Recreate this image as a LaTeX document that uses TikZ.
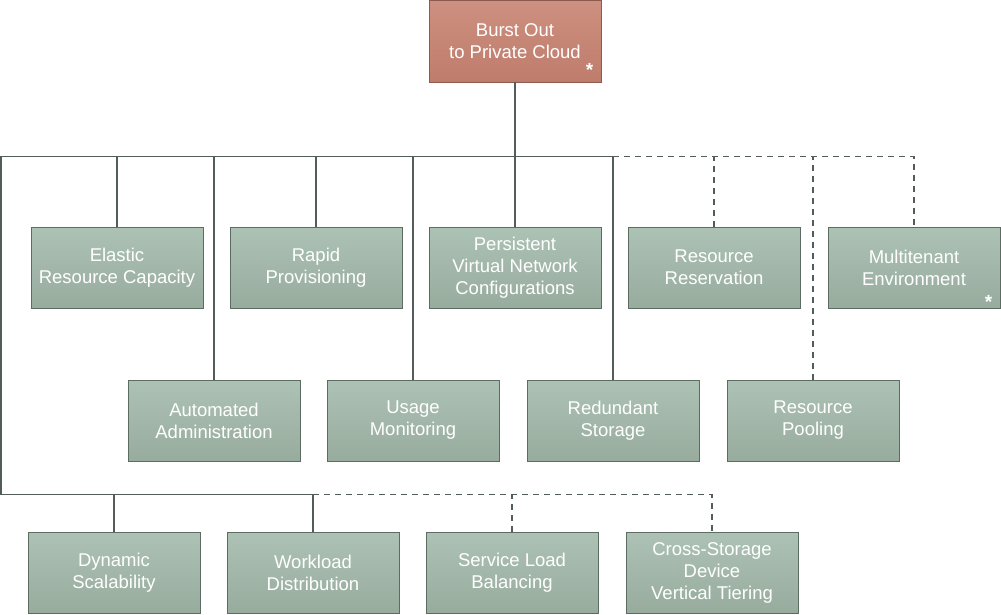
\documentclass[tikz,border=0pt]{standalone}
\usepackage{fontspec}
\setmainfont{Liberation Sans}
\usepackage{xcolor}
\usepackage{tikz}
\usetikzlibrary{positioning,calc,shadows}
\definecolor{PatTop}{RGB}{172,194,180}
\definecolor{PatBot}{RGB}{152,172,158}
\definecolor{PatEdge}{RGB}{92,108,98}
\definecolor{RootTop}{RGB}{206,144,128}
\definecolor{RootBot}{RGB}{190,124,108}
\definecolor{RootEdge}{RGB}{140,90,78}
\definecolor{LinkC}{RGB}{82,92,88}
\tikzset{
  pat/.style={rectangle,draw=PatEdge,line width=0.8pt,top color=PatTop,bottom color=PatBot,
              minimum width=172pt,minimum height=81pt,inner sep=0pt,align=center,
              text=white,font=\fontsize{18.5}{22}\selectfont,
              drop shadow={shadow xshift=1.2pt,shadow yshift=-1.2pt,fill=black,opacity=0.45}},
  root/.style={pat,draw=RootEdge,top color=RootTop,bottom color=RootBot,minimum height=82pt},
  starmark/.style={text=white,font=\fontsize{19}{19}\selectfont\bfseries,inner sep=0pt,anchor=south east},
  link/.style={draw=LinkC,line width=1.4pt},
  opt/.style ={link,dash pattern=on 6pt off 5pt},
}
\begin{document}
\begin{tikzpicture}[x=1pt,y=1pt]
  \useasboundingbox (0,0) rectangle (1001,-614);
  \node[root] (burst) at (515,-41) {Burst Out\\to Private Cloud};
  \node[starmark] (burststar) at ($(burst.south east)+(-8,6)$) {*};
  % first row
  \node[pat] (elastic) at (117,-267.5) {Elastic\\Resource Capacity};
  \node[pat] (rapid)   at (316,-267.5) {Rapid\\Provisioning};
  \node[pat] (persist) at (515,-267.5) {Persistent\\Virtual Network\\Configurations};
  \node[pat] (reserv)  at (714,-267.5) {Resource\\Reservation};
  \node[pat] (multi)   at (914,-267.5) {Multitenant\\Environment};
  \node[starmark] (multistar) at ($(multi.south east)+(-8,0)$) {*};
  % second row
  \node[pat] (autoadm) at (214,-420.5) {Automated\\Administration};
  \node[pat] (usage)   at (413,-420.5) {Usage\\Monitoring};
  \node[pat] (redund)  at (613,-420.5) {Redundant\\Storage};
  \node[pat] (pooling) at (813,-420.5) {Resource\\Pooling};
  % third row
  \node[pat] (dynscal) at (114,-572.5) {Dynamic\\Scalability};
  \node[pat] (workld)  at (313,-572.5) {Workload\\Distribution};
  \node[pat] (loadbal) at (512,-572.5) {Service Load\\Balancing};
  \node[pat] (tiering) at (712,-572.5) {Cross-Storage\\Device\\Vertical Tiering};
  \coordinate (ctop) at (1,-156.5);
  \coordinate (cbot) at (1,-494.5);
  \draw[link] (redund.north) -- (redund.north |- ctop) -- (ctop) -- (cbot)
              -- (workld.north |- cbot) -- (workld.north);
  \foreach \n in {burst.south,elastic.north,autoadm.north,rapid.north,usage.north,persist.north}
    \draw[link] (\n) -- (\n |- ctop);
  \draw[link] (dynscal.north) -- (dynscal.north |- cbot);
  \draw[opt] (redund.north |- ctop) -- (multi.north |- ctop) -- (multi.north);
  \draw[opt] (reserv.north) -- (reserv.north |- ctop);
  \draw[opt] (pooling.north) -- (pooling.north |- ctop);
  \draw[opt] (workld.north |- cbot) -- (tiering.north |- cbot) -- (tiering.north);
  \draw[opt] (loadbal.north) -- (loadbal.north |- cbot);
\end{tikzpicture}
\end{document}
